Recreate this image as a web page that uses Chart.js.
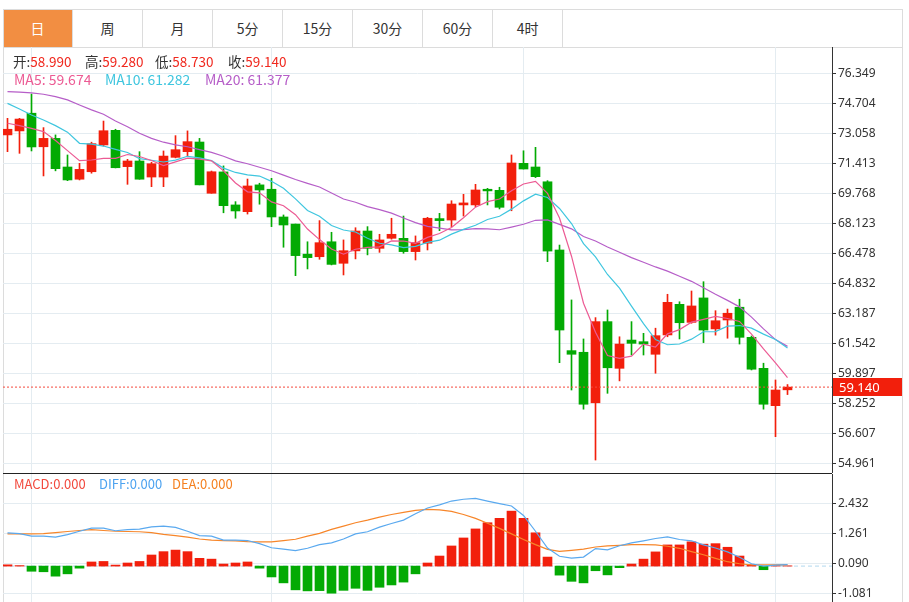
<!DOCTYPE html>
<html>
<head>
<meta charset="utf-8">
<script src="https://cdn.jsdelivr.net/npm/chart.js@4.4.1/dist/chart.umd.min.js"></script>
<style>
  html, body { margin: 0; padding: 0; background: #fff; }
  body { width: 909px; height: 602px; position: relative; overflow: hidden;
         font-family: "Noto Sans CJK SC", "Noto Sans", sans-serif; }
  .abs { position: absolute; }
  #tabs { left: 3px; top: 9px; width: 899px; height: 37px;
          border-top: 1px solid #dcdcdc; border-bottom: 1px solid #dcdcdc; }
  .tab { position: absolute; top: 0; height: 37px; line-height: 37px; text-align: center;
         font-size: 14px; color: #333; border-right: 1px solid #dcdcdc; box-sizing: border-box; }
  .tab.on { background: #f28e42; color: #fff; }
  #frameL { left: 3px; top: 9px; width: 1px; height: 593px; background: #dcdcdc; }
  #frameR { left: 902px; top: 9px; width: 1px; height: 593px; background: #dcdcdc; }
  #sep { left: 3px; top: 473px; width: 829px; height: 1px; background: #222; }
  .leg { position: absolute; white-space: nowrap; font-size: 13.5px; line-height: 18px; }
  .leg.ma { font-size: 14px; }
  .leg.small { font-size: 13px; }
  .k { color: #333; }
  .red { color: #f0281e; }
  canvas { position: absolute; }
</style>
</head>
<body>
<div id="tabs" class="abs"></div>
<div id="frameL" class="abs"></div>
<div id="frameR" class="abs"></div>
<canvas id="main" width="900" height="426" style="left:3px;top:47px"></canvas>
<canvas id="macd" width="900" height="128" style="left:3px;top:474px"></canvas>
<div id="sep" class="abs"></div>

<div class="leg" style="left:13px;top:52px"><span class="k">开:</span><span class="red" id="vOpen"></span></div>
<div class="leg" style="left:85px;top:52px"><span class="k">高:</span><span class="red" id="vHigh"></span></div>
<div class="leg" style="left:155px;top:52px"><span class="k">低:</span><span class="red" id="vLow"></span></div>
<div class="leg" style="left:228px;top:52px"><span class="k">收:</span><span class="red" id="vClose"></span></div>
<div class="leg ma" style="left:14px;top:70px;color:#ec5b94">MA5: 59.674</div>
<div class="leg ma" style="left:105px;top:70px;color:#3fc6df">MA10: 61.282</div>
<div class="leg ma" style="left:205px;top:70px;color:#b65ec8">MA20: 61.377</div>
<div class="leg small" style="left:14px;top:475px;color:#f2493d">MACD:0.000</div>
<div class="leg small" style="left:99px;top:475px;color:#4da3f0">DIFF:0.000</div>
<div class="leg small" style="left:172px;top:475px;color:#f5801f">DEA:0.000</div>

<script>
// ---- data ----
const tabLabels = ['日', '周', '月', '5分', '15分', '30分', '60分', '4时'];

const opens = [72.97, 73.19, 74.16, 72.32, 72.78, 71.21, 70.54, 70.95, 72.42, 73.22,
  71.23, 71.54, 70.66, 70.66, 71.74, 72.05, 72.58, 69.77, 70.94, 69.13,
  68.76, 70.23, 69.99, 68.47, 68.08, 66.43, 66.29, 67.11, 65.93, 66.61,
  67.70, 66.75, 67.30, 67.30, 66.57, 67.03, 68.38, 68.30, 69.13, 69.13,
  69.99, 69.93, 69.40, 71.41, 71.21, 70.40, 66.66, 61.14, 61.05, 58.28,
  62.73, 60.17, 61.72, 61.63, 60.94, 62.00, 63.68, 62.69, 64.03, 62.33,
  62.82, 63.52, 61.87, 60.17, 58.12, 58.99];
const highs = [73.88, 73.88, 75.21, 73.37, 72.97, 71.87, 71.41, 72.57, 73.73, 73.28,
  71.63, 72.05, 71.47, 72.09, 72.93, 73.19, 72.78, 70.99, 71.27, 69.31,
  70.55, 70.32, 70.59, 68.58, 68.08, 67.11, 68.27, 67.63, 67.21, 67.88,
  67.94, 67.52, 68.40, 68.52, 67.43, 68.45, 68.67, 69.36, 69.71, 70.26,
  70.04, 70.10, 71.87, 72.10, 72.29, 70.46, 66.93, 63.92, 61.78, 62.95,
  63.37, 61.90, 62.73, 62.09, 62.37, 64.23, 63.82, 64.41, 64.92, 63.33,
  63.42, 63.96, 61.94, 60.45, 59.53, 59.28];
const lows = [72.05, 71.96, 72.09, 70.72, 71.00, 70.46, 70.50, 70.87, 72.36, 71.16,
  70.26, 70.54, 70.13, 70.13, 71.71, 71.83, 70.23, 69.77, 68.70, 68.40,
  68.63, 69.17, 67.94, 66.81, 65.25, 65.62, 66.15, 65.84, 65.29, 66.17,
  66.39, 66.53, 67.25, 66.48, 66.11, 66.66, 67.72, 67.94, 68.52, 69.03,
  69.13, 68.91, 68.81, 71.10, 70.63, 66.02, 60.48, 58.98, 57.93, 55.14,
  58.80, 59.48, 60.90, 60.90, 59.90, 61.90, 61.78, 62.64, 61.58, 61.99,
  61.82, 61.50, 60.08, 57.93, 56.42, 58.73];
const closes = [73.28, 73.84, 72.31, 72.78, 71.12, 70.50, 71.08, 72.49, 73.20, 71.17,
  71.54, 70.54, 71.39, 71.81, 72.16, 72.60, 70.23, 70.95, 69.09, 68.80,
  70.17, 69.95, 68.47, 68.03, 66.35, 66.24, 67.06, 65.87, 66.62, 67.70,
  66.75, 67.21, 67.52, 66.57, 67.06, 68.40, 68.27, 69.18, 69.24, 69.95,
  69.90, 69.00, 71.43, 71.10, 70.68, 66.60, 62.27, 60.94, 58.20, 62.73,
  60.20, 61.50, 61.54, 61.50, 61.96, 63.79, 62.67, 63.59, 62.27, 62.78,
  63.19, 61.87, 60.12, 58.20, 58.98, 59.14];

// MA values at the left edge, where the window reaches back before the first visible candle
const ma5Head = [73.61, 73.48, 73.33, 73.15];
const ma10Head = [74.70, 74.39, 74.06, 73.79, 73.48, 73.12, 72.51, 72.46, 72.36];
const ma20Head = [75.34, 75.32, 75.27, 75.20, 75.07, 74.89, 74.61, 74.34, 74.10, 73.73,
  73.42, 73.06, 72.78, 72.57, 72.42, 72.32, 72.16, 72.01, 71.80];

const macdHist = [0.05, 0.02, -0.20, -0.22, -0.39, -0.30, -0.08, 0.16, 0.18, 0.04,
  0.12, 0.18, 0.43, 0.56, 0.62, 0.56, 0.30, 0.27, 0.08, 0.12,
  0.16, -0.08, -0.42, -0.65, -0.92, -0.96, -0.95, -1.05, -0.94, -0.86,
  -0.94, -0.82, -0.73, -0.62, -0.30, 0.12, 0.39, 0.78, 1.09, 1.44,
  1.68, 1.85, 2.13, 1.85, 1.29, 0.35, -0.35, -0.59, -0.65, -0.18,
  -0.34, -0.06, 0.08, 0.27, 0.55, 0.82, 0.82, 0.94, 0.85, 0.87,
  0.73, 0.39, 0.05, -0.14, 0.02, 0.01];
const diffLine = [1.29, 1.26, 1.16, 1.16, 1.12, 1.22, 1.35, 1.47, 1.47, 1.37,
  1.41, 1.43, 1.52, 1.55, 1.50, 1.35, 1.18, 1.16, 1.01, 1.01,
  0.99, 0.87, 0.71, 0.66, 0.60, 0.69, 0.83, 0.90, 1.05, 1.25,
  1.33, 1.51, 1.65, 1.78, 2.03, 2.25, 2.37, 2.52, 2.59, 2.62,
  2.52, 2.42, 2.33, 1.96, 1.35, 0.70, 0.38, 0.31, 0.35, 0.68,
  0.63, 0.79, 0.90, 0.98, 1.07, 1.13, 1.03, 0.98, 0.82, 0.70,
  0.55, 0.34, 0.09, 0.00, 0.04, 0.06];
const deaLine = [1.25, 1.25, 1.25, 1.26, 1.30, 1.34, 1.38, 1.41, 1.38, 1.35,
  1.34, 1.33, 1.30, 1.23, 1.18, 1.12, 1.05, 1.01, 0.99, 0.98,
  0.95, 0.94, 0.94, 0.99, 1.04, 1.16, 1.27, 1.42, 1.55, 1.68,
  1.78, 1.90, 2.00, 2.08, 2.16, 2.20, 2.18, 2.12, 2.00, 1.85,
  1.66, 1.46, 1.25, 1.03, 0.83, 0.65, 0.57, 0.61, 0.66, 0.74,
  0.78, 0.80, 0.83, 0.83, 0.82, 0.77, 0.69, 0.56, 0.44, 0.30,
  0.17, 0.09, 0.05, 0.05, 0.05, 0.05];

const priceTicks = [76.349, 74.704, 73.058, 71.413, 69.768, 68.123, 66.478,
  64.832, 63.187, 61.542, 59.897, 58.252, 56.607, 54.961];
const macdTicks = [2.432, 1.261, 0.090, -1.081];
const monthStarts = [2, 22, 43, 64];   // candles with a vertical grid line

// ---- colours / layout ----
const UP = '#f21f0c', DOWN = '#03aa03';
const GRID = '#e4ecf1';
const X_MIN = -0.375, X_MAX = 68.708;
const FONT = '"Noto Sans", sans-serif';

// tabs
const tabBox = document.getElementById('tabs');
tabLabels.forEach((t, i) => {
  const d = document.createElement('div');
  d.className = 'tab' + (i === 0 ? ' on' : '');
  d.style.left = (i * 70) + 'px';
  d.style.width = '70.1px';
  d.textContent = t;
  tabBox.appendChild(d);
});

const last = closes.length - 1;
document.getElementById('vOpen').textContent = opens[last].toFixed(3);
document.getElementById('vHigh').textContent = highs[last].toFixed(3);
document.getElementById('vLow').textContent = lows[last].toFixed(3);
document.getElementById('vClose').textContent = closes[last].toFixed(3);

function movingAverage(n, head) {
  return closes.map((c, i) => {
    if (i < n - 1) return { x: i, y: head[i] };
    let s = 0;
    for (let j = i - n + 1; j <= i; j++) s += closes[j];
    return { x: i, y: s / n };
  });
}

const candleColors = closes.map((c, i) => (c >= opens[i] ? UP : DOWN));

function xScale() {
  return {
    type: 'linear', min: X_MIN, max: X_MAX, offset: false, bounds: 'ticks',
    ticks: { display: false },
    grid: { color: GRID, drawTicks: false, offset: false },
    border: { display: false },
    afterDataLimits: s => { s.min = X_MIN; s.max = X_MAX; },
    afterBuildTicks: s => { s.ticks = monthStarts.map(v => ({ value: v })); },
    afterFit: s => { s.height = 0; s.paddingLeft = 0; s.paddingRight = 0; }
  };
}

function yScale(min, max, tickVals) {
  return {
    position: 'right', min, max,
    ticks: {
      autoSkip: false, padding: 2, color: '#333',
      font: { family: FONT, size: 12 },
      callback: v => v.toFixed(3)
    },
    grid: { color: GRID, tickColor: '#333', tickLength: 4 },
    border: { color: '#333' },
    afterBuildTicks: s => { s.ticks = tickVals.map(v => ({ value: v })); },
    afterFit: s => { s.width = 71; s.paddingTop = 0; s.paddingBottom = 0; }
  };
}

const lastPriceTag = {
  id: 'lastPriceTag',
  afterDraw(chart) {
    const ctx = chart.ctx;
    const y = Math.round(chart.scales.y.getPixelForValue(closes[last]));
    const x = chart.chartArea.right + 1;
    ctx.save();
    ctx.fillStyle = UP;
    ctx.fillRect(x, y - 9, 69, 18);
    ctx.fillStyle = '#fff';
    ctx.font = '13px ' + FONT;
    ctx.textBaseline = 'middle';
    ctx.fillText(closes[last].toFixed(3), x + 6, y + 1);
    ctx.restore();
  }
};

const common = {
  responsive: false,
  animation: false,
  layout: { padding: 0 },
  plugins: { legend: { display: false }, tooltip: { enabled: false } }
};

new Chart(document.getElementById('main'), {
  type: 'bar',
  data: {
    datasets: [
      { type: 'line', data: movingAverage(5, ma5Head), borderColor: '#ec5b94', borderWidth: 1.2, pointRadius: 0, order: 0 },
      { type: 'line', data: movingAverage(10, ma10Head), borderColor: '#3fc6df', borderWidth: 1.2, pointRadius: 0, order: 0 },
      { type: 'line', data: movingAverage(20, ma20Head), borderColor: '#b65ec8', borderWidth: 1.2, pointRadius: 0, order: 0 },
      { type: 'line', data: [{ x: X_MIN, y: closes[last] }, { x: X_MAX, y: closes[last] }],
        borderColor: '#f5483c', borderWidth: 1, borderDash: [2, 2], pointRadius: 0, order: 0 },
      { data: closes.map((c, i) => ({ x: i, y: [opens[i], c] })), backgroundColor: candleColors,
        barThickness: 9, grouped: false, order: 1 },
      { data: closes.map((c, i) => ({ x: i, y: [lows[i], highs[i]] })), backgroundColor: candleColors,
        barThickness: 1, grouped: false, order: 2 }
    ]
  },
  options: {
    ...common,
    scales: { x: xScale(), y: yScale(54.429, 77.791, priceTicks) }
  },
  plugins: [lastPriceTag]
});

new Chart(document.getElementById('macd'), {
  type: 'bar',
  data: {
    datasets: [
      { type: 'line', data: diffLine.map((v, i) => ({ x: i, y: v })), borderColor: '#5aa9ef', borderWidth: 1.2, pointRadius: 0, order: 0 },
      { type: 'line', data: deaLine.map((v, i) => ({ x: i, y: v })), borderColor: '#f7862a', borderWidth: 1.2, pointRadius: 0, order: 0 },
      { type: 'line', data: [{ x: X_MIN, y: 0 }, { x: X_MAX, y: 0 }], borderColor: '#b3d8ee', borderWidth: 1,
        borderDash: [4, 3], pointRadius: 0, order: 3 },
      { data: macdHist.map((v, i) => ({ x: i, y: v })), backgroundColor: macdHist.map(v => (v >= 0 ? UP : DOWN)),
        barThickness: 9, grouped: false, order: 1 }
    ]
  },
  options: {
    ...common,
    scales: { x: xScale(), y: yScale(-1.391, 3.568, macdTicks) }
  }
});
</script>
</body>
</html>
